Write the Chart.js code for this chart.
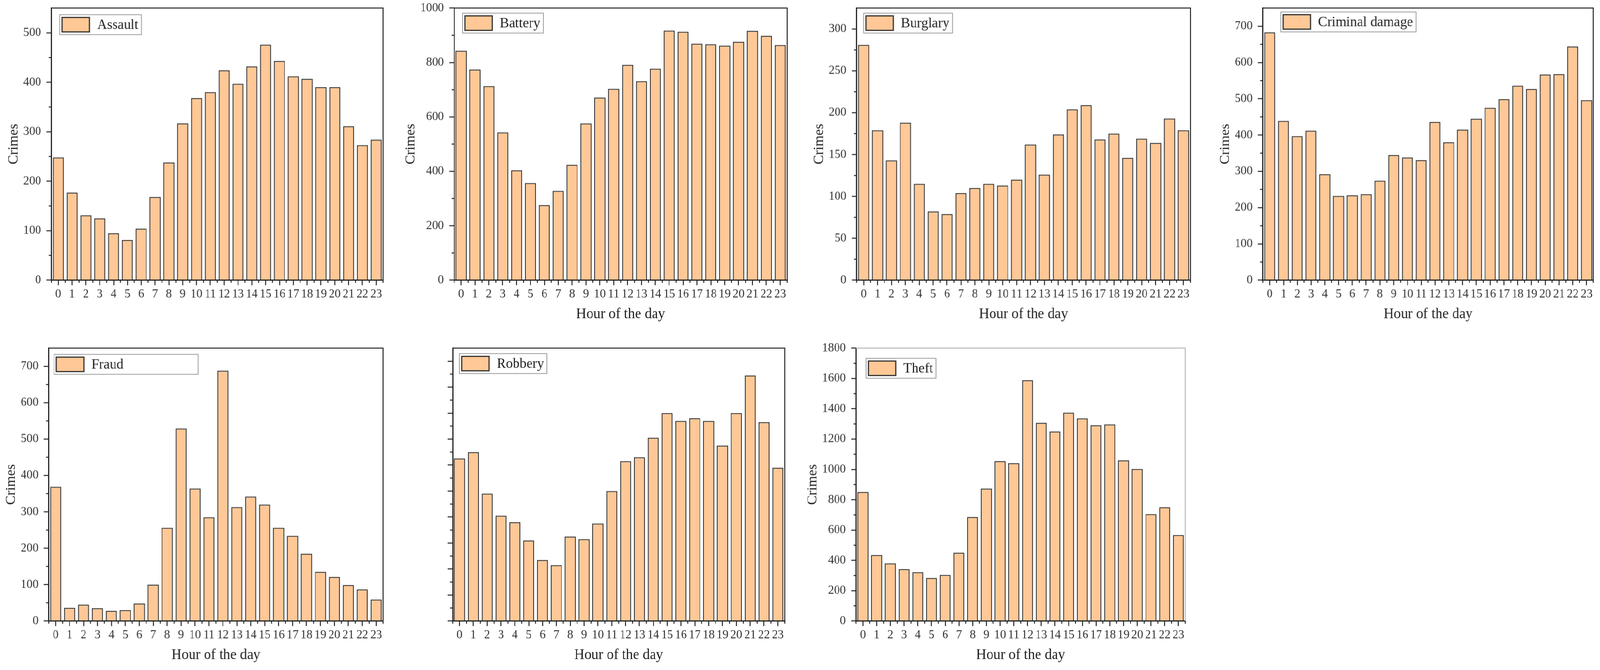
<!DOCTYPE html>
<html>
<head>
<meta charset="utf-8">
<script src="https://cdn.jsdelivr.net/npm/chart.js@4.4.1/dist/chart.umd.min.js"></script>
<style>
html, body { margin: 0; padding: 0; background: #fff; overflow: hidden; }
#fig { position: absolute; left: 0; top: 0; width: 4200px; height: 1716px; transform-origin: 0 0; }
#fig canvas { position: absolute; }
</style>
</head>
<body>
<div id="fig"></div>
<script>
// Hours on the x axis
var hours = ['0','1','2','3','4','5','6','7','8','9','10','11','12','13','14','15','16','17','18','19','20','21','22','23'];

// Crimes per hour, one array per crime type
var assault = [248,177,131,125,95,81,104,168,238,317,368,380,424,397,432,476,443,412,407,390,390,311,273,284];
var battery = [843,774,713,543,404,357,276,328,424,576,671,703,791,731,777,917,913,869,867,862,876,916,898,864];
var burglary = [281,179,143,188,115,82,79,104,110,115,113,120,162,126,174,204,209,168,175,146,169,164,193,179];
var criminalDamage = [683,439,397,412,292,232,234,237,274,345,338,331,436,380,415,445,475,499,536,527,567,568,644,496];
var fraud = [369,36,45,35,28,30,48,100,256,529,364,285,688,313,342,320,256,234,185,135,121,99,87,59];
var robbery = [125,130,98,81,76,62,47,43,65,63,75,100,123,126,141,160,154,156,154,135,160,189,153,118];
var theft = [851,435,380,342,322,284,304,450,686,873,1055,1041,1589,1308,1250,1374,1337,1291,1297,1060,1003,705,751,567];

// y axis ranges (max, major step)
var yMax = [550, 1000, 325, 750, 750, 210, 1800];
var yStep = [100, 200, 50, 100, 100, 20, 200];

var FONT = '"Liberation Serif", "Times New Roman", serif';
var INK = '#222';
var BAR_FILL = '#FFC896';
var BAR_EDGE = '#333';

// where each plot area sits on the page, and a few per panel quirks
var panels = [
	{ name: 'Assault', data: assault, L: 135, T: 21, R: 1005, B: 717, xTitle: false, yTitle: true, yLabels: true, frame: INK, leg: [22, 17, 0] },
	{ name: 'Battery', data: battery, L: 1192, T: 21, R: 2066, B: 717, xTitle: true, yTitle: true, yLabels: true, frame: INK, leg: [22, 13, 0] },
	{ name: 'Burglary', data: burglary, L: 2249, T: 21, R: 3124, B: 717, xTitle: true, yTitle: true, yLabels: true, frame: INK, leg: [18, 13, 0] },
	{ name: 'Criminal damage', data: criminalDamage, L: 3315, T: 21, R: 4182, B: 717, xTitle: true, yTitle: true, yLabels: true, frame: INK, leg: [47, 10, 0] },
	{ name: 'Fraud', data: fraud, L: 128, T: 892, R: 1005, B: 1590, xTitle: true, yTitle: true, yLabels: true, frame: INK, leg: [14, 16, 378] },
	{ name: 'Robbery', data: robbery, L: 1188, T: 892, R: 2060, B: 1590, xTitle: true, yTitle: false, yLabels: false, frame: INK, leg: [18, 14, 0] },
	{ name: 'Theft', data: theft, L: 2247, T: 892, R: 3111, B: 1590, xTitle: true, yTitle: true, yLabels: true, frame: '#b8b8b8', leg: [26, 26, 0] }
];

// top/right frame plus the short minor ticks on both axes
var framePlugin = {
	id: 'frame',
	afterDraw: function(chart, args, opts) {
		var ctx = chart.ctx, a = chart.chartArea;
		var xs = chart.scales.x, ys = chart.scales.y;
		ctx.save();
		ctx.lineWidth = 2.5;
		ctx.strokeStyle = opts.color;
		ctx.beginPath();
		ctx.moveTo(a.left, a.top);
		ctx.lineTo(a.right, a.top);
		ctx.lineTo(a.right, a.bottom);
		ctx.stroke();

		ctx.strokeStyle = INK;
		ctx.beginPath();
		for (var v = opts.step / 2; v < ys.max; v += opts.step) {
			var py = ys.getPixelForValue(v);
			ctx.moveTo(a.left, py);
			ctx.lineTo(a.left - 7, py);
		}
		for (var i = 0; i <= chart.data.labels.length; i++) {
			var px = xs.getPixelForValue(i - 0.5);
			ctx.moveTo(px, a.bottom);
			ctx.lineTo(px, a.bottom + 7);
		}
		ctx.stroke();
		ctx.restore();
	}
};

// legend box drawn inside the plot, top left
var boxLegend = {
	id: 'boxLegend',
	afterDraw: function(chart, args, opts) {
		var ctx = chart.ctx, a = chart.chartArea;
		var ds = chart.data.datasets[0];
		var x0 = a.left + opts.dx, y0 = a.top + opts.dy, h = 51;
		ctx.save();
		ctx.font = '36px ' + FONT;
		var w = opts.w || (98 + ctx.measureText(ds.label).width + 8);
		ctx.fillStyle = '#fff';
		ctx.fillRect(x0, y0, w, h);
		ctx.lineWidth = 2;
		ctx.strokeStyle = '#999';
		ctx.strokeRect(x0, y0, w, h);
		ctx.fillStyle = ds.backgroundColor;
		ctx.fillRect(x0 + 6, y0 + 7, 72, 37);
		ctx.lineWidth = 3;
		ctx.strokeStyle = BAR_EDGE;
		ctx.strokeRect(x0 + 6, y0 + 7, 72, 37);
		ctx.fillStyle = INK;
		ctx.textBaseline = 'middle';
		ctx.fillText(ds.label, x0 + 98, y0 + h / 2 + 1);
		ctx.restore();
	}
};

var fig = document.getElementById('fig');

function makePanel(p, k) {
	var cv = document.createElement('canvas');
	cv.width = (p.R - p.L) + 260;
	cv.height = (p.B - p.T) + 160;
	fig.appendChild(cv);

	var chart = new Chart(cv, {
		type: 'bar',
		data: {
			labels: hours,
			datasets: [{
				label: p.name,
				data: p.data,
				backgroundColor: BAR_FILL,
				borderColor: BAR_EDGE,
				borderWidth: 2.5,
				categoryPercentage: 1,
				barPercentage: 0.8
			}]
		},
		options: {
			responsive: false,
			maintainAspectRatio: false,
			devicePixelRatio: 1,
			animation: false,
			layout: { padding: { top: 21, right: 12, left: 0, bottom: 0 } },
			plugins: {
				legend: { display: false },
				tooltip: { enabled: false },
				frame: { color: p.frame, step: yStep[k] },
				boxLegend: { dx: p.leg[0], dy: p.leg[1], w: p.leg[2] }
			},
			scales: {
				x: {
					grid: { offset: false, drawOnChartArea: false, drawTicks: true, tickLength: 13, lineWidth: 2.5, color: INK },
					border: { display: true, width: 3, color: INK },
					ticks: { font: { family: FONT, size: 31 }, color: '#333', padding: 5, maxRotation: 0, autoSkip: false },
					title: { display: p.xTitle, text: 'Hour of the day', font: { family: FONT, size: 37 }, color: INK, padding: { top: 4, bottom: 10 } },
					afterFit: function(s) { s.height = 120; }
				},
				y: {
					min: 0,
					max: yMax[k],
					grid: { drawOnChartArea: false, drawTicks: true, tickLength: 13, lineWidth: 2.5, color: INK },
					border: { display: true, width: 3, color: INK },
					ticks: {
						stepSize: yStep[k],
						includeBounds: false,
						font: { family: FONT, size: 31 },
						color: '#333',
						padding: 14,
						callback: function(v) { return p.yLabels ? v : ''; }
					},
					// negative bottom padding pulls the title in towards the tick labels
					title: { display: p.yTitle, text: 'Crimes', font: { family: FONT, size: 36 }, color: INK, padding: { top: 4, bottom: -11 } }
				}
			}
		},
		plugins: [framePlugin, boxLegend]
	});

	// size the canvas so the plot area lands where it does in the figure
	var a = chart.chartArea;
	var w = cv.width + (p.R - p.L) - (a.right - a.left);
	var h = cv.height + (p.B - p.T) - (a.bottom - a.top);
	chart.resize(w, h);
	a = chart.chartArea;
	cv.style.left = (p.L - a.left) + 'px';
	cv.style.top = (p.T - a.top) + 'px';
}

Chart.defaults.font.family = FONT;
for (var k = 0; k < panels.length; k++) {
	makePanel(panels[k], k);
}

// if the visible window is smaller than the figure, shrink the figure to fit
var vw = window.innerWidth, vh = window.innerHeight;
if (vw < 4195 || vh < 1711) {
	fig.style.transform = 'scale(' + (vw / 4200) + ',' + (vh / 1716) + ')';
}
</script>
</body>
</html>
